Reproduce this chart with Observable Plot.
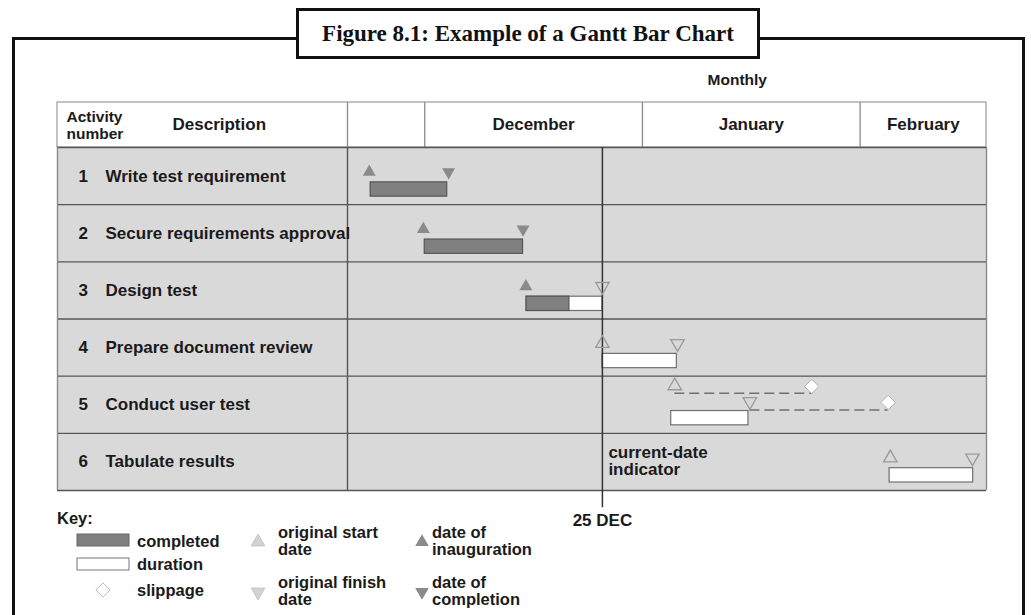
<!DOCTYPE html>
<html><head><meta charset="utf-8">
<script src="https://cdn.jsdelivr.net/npm/d3@7"></script>
<script src="https://cdn.jsdelivr.net/npm/@observablehq/plot@0.6"></script>
<style>
html,body{margin:0;padding:0;background:#fff;width:1031px;height:615px;overflow:hidden;}
#page{position:relative;width:1031px;height:615px;font-family:"Liberation Sans",Arial,sans-serif;}
#frame{position:absolute;left:12px;top:37px;width:1013px;height:700px;border:3px solid #111;box-sizing:border-box;}
#chart{position:absolute;left:0;top:0;}
#title{position:absolute;left:296px;top:8px;width:464px;height:51px;border:3px solid #111;background:#fff;box-sizing:border-box;
  font-family:"Liberation Serif","DejaVu Serif",serif;font-weight:bold;font-size:23px;color:#111;
  display:flex;align-items:center;justify-content:center;white-space:nowrap;}
#key{position:absolute;left:0;top:0;}
#key text{font-family:"Liberation Sans",Arial,sans-serif;font-weight:bold;font-size:16.5px;fill:#1a1a1a;}
</style>
</head><body>
<div id="page">
  <div id="frame"></div>
  <div id="chart"></div>
  <div id="title">Figure 8.1: Example of a Gantt Bar Chart</div>
</div>
<script>
// ---------- data (days counted from 1 December = day 0) ----------
const activityNumbers = [1, 2, 3, 4, 5, 6];
const descriptions = ["Write test requirement", "Secure requirements approval", "Design test",
  "Prepare document review", "Conduct user test", "Tabulate results"];
const inaugurationDate = [-7.9, -0.2, 14.4, null, null, null];
const completionDate   = [3.4, 14.0, null, null, null, null];
const completedFrom    = [-7.7, 0.0, 14.5, null, null, null];
const completedTo      = [3.2, 14.0, 20.6, null, null, null];
const originalStart    = [null, null, null, 25.3, 35.6, 66.3];
const originalFinish   = [null, null, 25.3, 36.0, 46.3, 78.0];
const durationFrom     = [null, null, 14.5, 25.3, 35.1, 66.2];
const durationTo       = [null, null, 25.3, 35.9, 46.1, 78.1];
const slippageStart    = [null, null, null, null, 55.1, null];
const slippageFinish   = [null, null, null, null, 66.0, null];
const months     = ["December", "January", "February"];
const monthStart = [0, 31, 62];
const monthEnd   = [31, 62, 80];
const timelineStart = -11;      // start of the blank column before December
const tableStart = -52.3;       // description column begins here on the day axis
const currentDate = 25.3;
const currentDateLabel = "25 DEC";
const headerTitles = ["Activity\nnumber", "Description"];
const monthlyLabel = "Monthly";
const currentDateText = "current-date\nindicator";

// ---------- tables built from the arrays ----------
const rows = activityNumbers.map((n, i) => ({
  row: i, number: String(n), description: descriptions[i],
  inauguration: inaugurationDate[i], completion: completionDate[i],
  cFrom: completedFrom[i], cTo: completedTo[i],
  oStart: originalStart[i], oFinish: originalFinish[i],
  dFrom: durationFrom[i], dTo: durationTo[i],
  sStart: slippageStart[i], sFinish: slippageFinish[i]
}));
const monthRows = months.map((m, i) => ({name: m, start: monthStart[i], end: monthEnd[i]}));
const tableEnd = monthEnd[monthEnd.length - 1];
const rowCount = rows.length;
const headerTop = -0.787;

// lanes within a row (fraction of row height)
const triLane = 0.43, barTop = 0.61, barBottom = 0.86;
const laneStart = d => d.sStart != null ? 0.17 : triLane;
const laneFinish = d => d.sFinish != null ? 0.445 : triLane;

const font = {fontFamily: "Liberation Sans, Arial, sans-serif", fontWeight: "bold", fill: "#1a1a1a", fontSize: 17};
const has = k => rows.filter(d => d[k] != null);
const rowBounds = d3.range(rowCount + 1);

const chart = Plot.plot({
  width: 1031, height: 615,
  marginLeft: 57, marginRight: 45, marginTop: 102, marginBottom: 125,
  x: {domain: [tableStart, tableEnd], axis: null},
  y: {domain: [headerTop, rowCount], reverse: true, axis: null},
  style: {background: "transparent", overflow: "visible"},
  marks: [
    // header cell background
    Plot.rect([0], {x1: tableStart, x2: tableEnd, y1: headerTop, y2: 0, fill: "white", stroke: "#9a9a9a", strokeWidth: 1.2}),
    Plot.ruleX([timelineStart, ...monthStart], {y1: headerTop, y2: 0, stroke: "#8a8a8a", strokeWidth: 1.3}),
    // body rows
    Plot.rect(rows, {x1: tableStart, x2: tableEnd, y1: d => d.row, y2: d => d.row + 1, fill: "#d9d9d9"}),
    Plot.ruleY(rowBounds, {x1: tableStart, x2: tableEnd, stroke: "#555", strokeWidth: 1.4}),
    Plot.ruleX([tableStart, tableEnd], {y1: 0, y2: rowCount, stroke: "#8a8a8a", strokeWidth: 1.4}),
    Plot.ruleX([timelineStart], {y1: 0, y2: rowCount, stroke: "#555", strokeWidth: 1.4}),
    // bars
    Plot.rect(has("dFrom"), {x1: "dFrom", x2: "dTo", y1: d => d.row + barTop, y2: d => d.row + barBottom, fill: "white", stroke: "#707070", strokeWidth: 1.2}),
    Plot.rect(has("cFrom"), {x1: "cFrom", x2: "cTo", y1: d => d.row + barTop, y2: d => d.row + barBottom, fill: "#808080", stroke: "#555", strokeWidth: 1.2}),
    // current date indicator
    Plot.ruleX([currentDate], {y1: 0, y2: rowCount + 0.3, stroke: "#333", strokeWidth: 1.5}),
    // slippage lines
    Plot.ruleY(has("sStart"), {x1: "oStart", x2: "sStart", y: d => d.row + 0.3, stroke: "#707070", strokeWidth: 1.5, strokeDasharray: "10,5"}),
    Plot.ruleY(has("sFinish"), {x1: "oFinish", x2: "sFinish", y: d => d.row + 0.59, stroke: "#707070", strokeWidth: 1.5, strokeDasharray: "10,5"}),
    // triangles
    Plot.dot(has("inauguration"), {x: "inauguration", y: d => d.row + triLane, symbol: "triangle", r: 4.8, fill: "#8a8a8a"}),
    Plot.dot(has("completion"), {x: "completion", y: d => d.row + triLane, symbol: "triangle", rotate: 180, r: 4.8, fill: "#8a8a8a"}),
    Plot.dot(has("oStart"), {x: "oStart", y: d => d.row + laneStart(d), symbol: "triangle", r: 5, fill: "none", stroke: "#9a9a9a", strokeWidth: 1.3}),
    Plot.dot(has("oFinish"), {x: "oFinish", y: d => d.row + laneFinish(d), symbol: "triangle", rotate: 180, r: 5, fill: "none", stroke: "#9a9a9a", strokeWidth: 1.3}),
    // slippage diamonds
    Plot.dot(has("sStart"), {x: "sStart", y: d => d.row + 0.18, symbol: "diamond2", r: 6.5, fill: "white", stroke: "#b0b0b0", strokeWidth: 1}),
    Plot.dot(has("sFinish"), {x: "sFinish", y: d => d.row + 0.46, symbol: "diamond2", r: 6.5, fill: "white", stroke: "#b0b0b0", strokeWidth: 1}),
    // header texts
    Plot.text([headerTitles[0]], {text: d => d, frameAnchor: "left", y: headerTop / 2, dx: 9, textAnchor: "start", lineHeight: 1.08, ...font, fontSize: 15.5}),
    Plot.text([headerTitles[1]], {text: d => d, frameAnchor: "left", y: headerTop / 2, dx: 115, textAnchor: "start", ...font}),
    Plot.text(monthRows, {x: d => (d.start + d.end) / 2, y: headerTop / 2, text: "name", ...font}),
    Plot.text([monthlyLabel], {text: d => d, x: (monthStart[1] + monthEnd[1]) / 2, y: headerTop, dx: -14, dy: -22, ...font, fontSize: 15.5}),
    // row texts
    Plot.text(rows, {frameAnchor: "left", y: d => d.row + 0.5, text: "number", dx: 21, textAnchor: "start", ...font}),
    Plot.text(rows, {frameAnchor: "left", y: d => d.row + 0.5, text: "description", dx: 48, textAnchor: "start", ...font}),
    // current date annotations
    Plot.text([currentDateText], {text: d => d, x: currentDate, y: rowCount - 0.52, dx: 6, textAnchor: "start", lineHeight: 1.05, ...font}),
    Plot.text([currentDateLabel], {text: d => d, x: currentDate, y: rowCount + 0.3, dy: 13, ...font})
  ]
});
document.getElementById("chart").appendChild(chart);

// ---------- key (legend) ----------
const key = d3.select("#page").append("svg").attr("id", "key").attr("width", 1031).attr("height", 615);
const sym = (type, size) => d3.symbol(type, size)();
key.append("text").attr("x", 57).attr("y", 524).text("Key:");
key.append("rect").attr("x", 77).attr("y", 534).attr("width", 52).attr("height", 12).attr("fill", "#808080").attr("stroke", "#666");
key.append("text").attr("x", 137).attr("y", 547).text("completed");
key.append("rect").attr("x", 77).attr("y", 558).attr("width", 52).attr("height", 12).attr("fill", "#fff").attr("stroke", "#777");
key.append("text").attr("x", 137).attr("y", 570).text("duration");
key.append("path").attr("d", sym(d3.symbolDiamond2, 130)).attr("transform", "translate(103,590)").attr("fill", "#fff").attr("stroke", "#bbb");
key.append("text").attr("x", 137).attr("y", 596).text("slippage");
key.append("path").attr("d", sym(d3.symbolTriangle, 80)).attr("transform", "translate(258,542)").attr("fill", "#d2d2d2").attr("stroke", "#c4c4c4");
key.append("text").attr("x", 278).attr("y", 538).text("original start");
key.append("text").attr("x", 278).attr("y", 555).text("date");
key.append("path").attr("d", sym(d3.symbolTriangle, 80)).attr("transform", "translate(258,592) rotate(180)").attr("fill", "#d2d2d2").attr("stroke", "#c4c4c4");
key.append("text").attr("x", 278).attr("y", 588).text("original finish");
key.append("text").attr("x", 278).attr("y", 605).text("date");
key.append("path").attr("d", sym(d3.symbolTriangle, 80)).attr("transform", "translate(422,542)").attr("fill", "#8a8a8a");
key.append("text").attr("x", 432).attr("y", 538).text("date of");
key.append("text").attr("x", 432).attr("y", 555).text("inauguration");
key.append("path").attr("d", sym(d3.symbolTriangle, 80)).attr("transform", "translate(422,592) rotate(180)").attr("fill", "#8a8a8a");
key.append("text").attr("x", 432).attr("y", 588).text("date of");
key.append("text").attr("x", 432).attr("y", 605).text("completion");
</script>
</body></html>
